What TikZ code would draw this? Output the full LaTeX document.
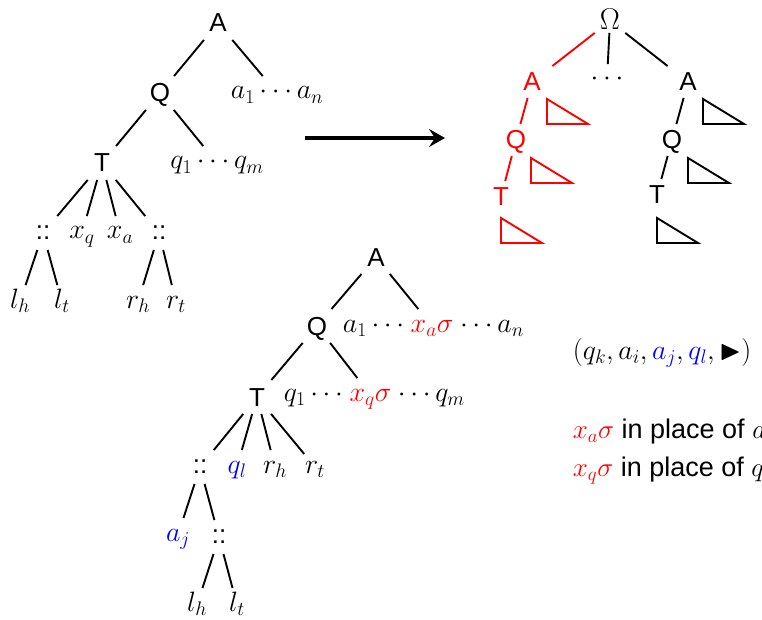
\RequirePackage{fix-cm}
\documentclass[tikz,border=0pt]{standalone}
\usepackage{amssymb}
\usepackage[no-math]{fontspec}
\setmainfont{Liberation Sans}
\newfontfamily\lmrfont{Latin Modern Roman}
\usetikzlibrary{calc,arrows.meta}
\begin{document}
\begin{tikzpicture}[x=1pt,y=-1pt,line width=1.9pt,
  lab/.style={font=\fontsize{26}{31}\selectfont, inner sep=0pt, text height=18pt, text depth=0pt, minimum height=32pt, minimum width=40pt},
  rlab/.style={lab, minimum height=30pt},
  colon/.style={lab, text height=13pt},
  ml/.style={font=\fontsize{28}{34}\selectfont, inner sep=0pt, text height=12pt, text depth=0pt, minimum height=32pt},
  tri/.style={line join=miter}]
\useasboundingbox (0,0) rectangle (762,620);
\newcommand\subtri[2]{\draw[tri,#1] #2 -- ++(0,25) -- ++(41,0) -- cycle;}
% ---------- top-left tree ----------
\node[lab] (A1) at (218,23) {A};
\node[lab] (Q1) at (160,93) {Q};
\node[ml] (an1) at (277,93) {$a_1\cdots a_n$};
\node[lab] (T1) at (102,163) {T};
\node[ml] (qm1) at (217,163) {$q_1\cdots q_m$};
\node[colon] (c1) at (43,233) {::};
\node[ml] (xq1) at (82,233) {$x_q$};
\node[ml] (xa1) at (120,233) {$x_a$};
\node[colon] (c2) at (159,233) {::};
\node[ml] (lh1) at (20,302) {$l_h$};
\node[ml] (lt1) at (62,302) {$l_t$};
\node[ml] (rh1) at (138,302) {$r_h$};
\node[ml] (rt1) at (176,302) {$r_t$};
\draw (A1) -- (Q1);
\draw (A1) -- (an1);
\draw (Q1) -- (T1);
\draw (Q1) -- (qm1);
\draw (T1) -- (c1);
\draw (T1) -- (xq1);
\draw (T1) -- (xa1);
\draw (T1) -- (c2);
\draw (c1) -- (lh1);
\draw (c1) -- (lt1);
\draw (c2) -- (rh1);
\draw (c2) -- (rt1);
% ---------- arrow ----------
\coordinate (arS) at (305,138);
\coordinate (arE) at (445,138);
\draw[line width=4pt,-{Stealth[length=16pt,width=18pt,inset=6pt]}] (arS) -- (arE);
% ---------- right tree ----------
\node[rlab, minimum height=22pt, text height=18pt, font=\lmrfont\fontsize{30}{36}\selectfont] (Om) at (610,21) {Ω};
\node[rlab, text=red] (Ar) at (532,82) {A};
\node[rlab] (Ab) at (688,82) {A};
\node[ml, text height=14pt, minimum height=28pt] (dt) at (607,79) {$\cdots$};
\node[rlab, text=red] (Qr) at (516,140) {Q};
\node[rlab] (Qb) at (672,140) {Q};
\node[rlab, text=red] (Tr) at (501,197) {T};
\node[rlab] (Tb) at (657,195) {T};
\draw[red] (Om) -- (Ar);
\draw (Om) -- (dt);
\draw (Om) -- (Ab);
\draw[red] (Ar) -- (Qr);
\draw[red] (Qr) -- (Tr);
\draw (Ab) -- (Qb);
\draw (Qb) -- (Tb);
\subtri{red}{($(Ar)+(15,17)$)}
\subtri{red}{($(Qr)+(15,18)$)}
\subtri{red}{($(Tr)+(0,21)$)}
\subtri{black}{($(Ab)+(15,17)$)}
\subtri{black}{($(Qb)+(16,18)$)}
\subtri{black}{($(Tb)+(0,23)$)}
% ---------- bottom tree ----------
\node[lab] (A2) at (376,257) {A};
\node[lab] (Q2) at (317,326) {Q};
\node[ml, anchor=west] (a2l) at (342,326) {$a_1\cdots\,$};
\node[ml, anchor=west, text=red] (xa2) at (a2l.east) {$x_a\sigma$};
\node[ml, anchor=west] (a2r) at (xa2.east) {$\,\cdots a_n$};
\node[lab] (T2) at (257,397) {T};
\node[ml, anchor=west] (q2l) at (283,395) {$q_1\cdots\,$};
\node[ml, anchor=west, text=red] (xq2) at (q2l.east) {$x_q\sigma$};
\node[ml, anchor=west] (q2r) at (xq2.east) {$\,\cdots q_m$};
\node[colon] (c3) at (200,467) {::};
\node[ml, text=blue] (ql2) at (237,467) {$q_l$};
\node[ml] (rh2) at (275,467) {$r_h$};
\node[ml] (rt2) at (315,467) {$r_t$};
\node[ml, text=blue] (aj2) at (178,535) {$a_j$};
\node[colon] (c4) at (219,537) {::};
\node[ml] (lh2) at (197,605) {$l_h$};
\node[ml] (lt2) at (237,605) {$l_t$};
\draw (A2) -- (Q2);
\draw (A2) -- (xa2);
\draw (Q2) -- (T2);
\draw (Q2) -- (xq2);
\draw (T2) -- (c3);
\draw (T2) -- (ql2);
\draw (T2) -- (rh2);
\draw (T2) -- (rt2);
\draw (c3) -- (aj2);
\draw (c3) -- (c4);
\draw (c4) -- (lh2);
\draw (c4) -- (lt2);
% ---------- right texts ----------
\node[anchor=base west, inner sep=0pt, font=\fontsize{28}{34}\selectfont] (tup) at (572,359)
  {$(q_k, a_i, \textcolor{blue}{a_j}, \textcolor{blue}{q_l}, \blacktriangleright)$};
\node[anchor=base west, inner sep=0pt, font=\fontsize{27}{32}\selectfont] (pl1) at (572,438)
  {\textcolor{red}{$x_a\sigma$} in place of $a_i$};
\node[anchor=base west, inner sep=0pt, font=\fontsize{27}{32}\selectfont] (pl2) at (572,476)
  {\textcolor{red}{$x_q\sigma$} in place of $q_k$};
\end{tikzpicture}
\end{document}
